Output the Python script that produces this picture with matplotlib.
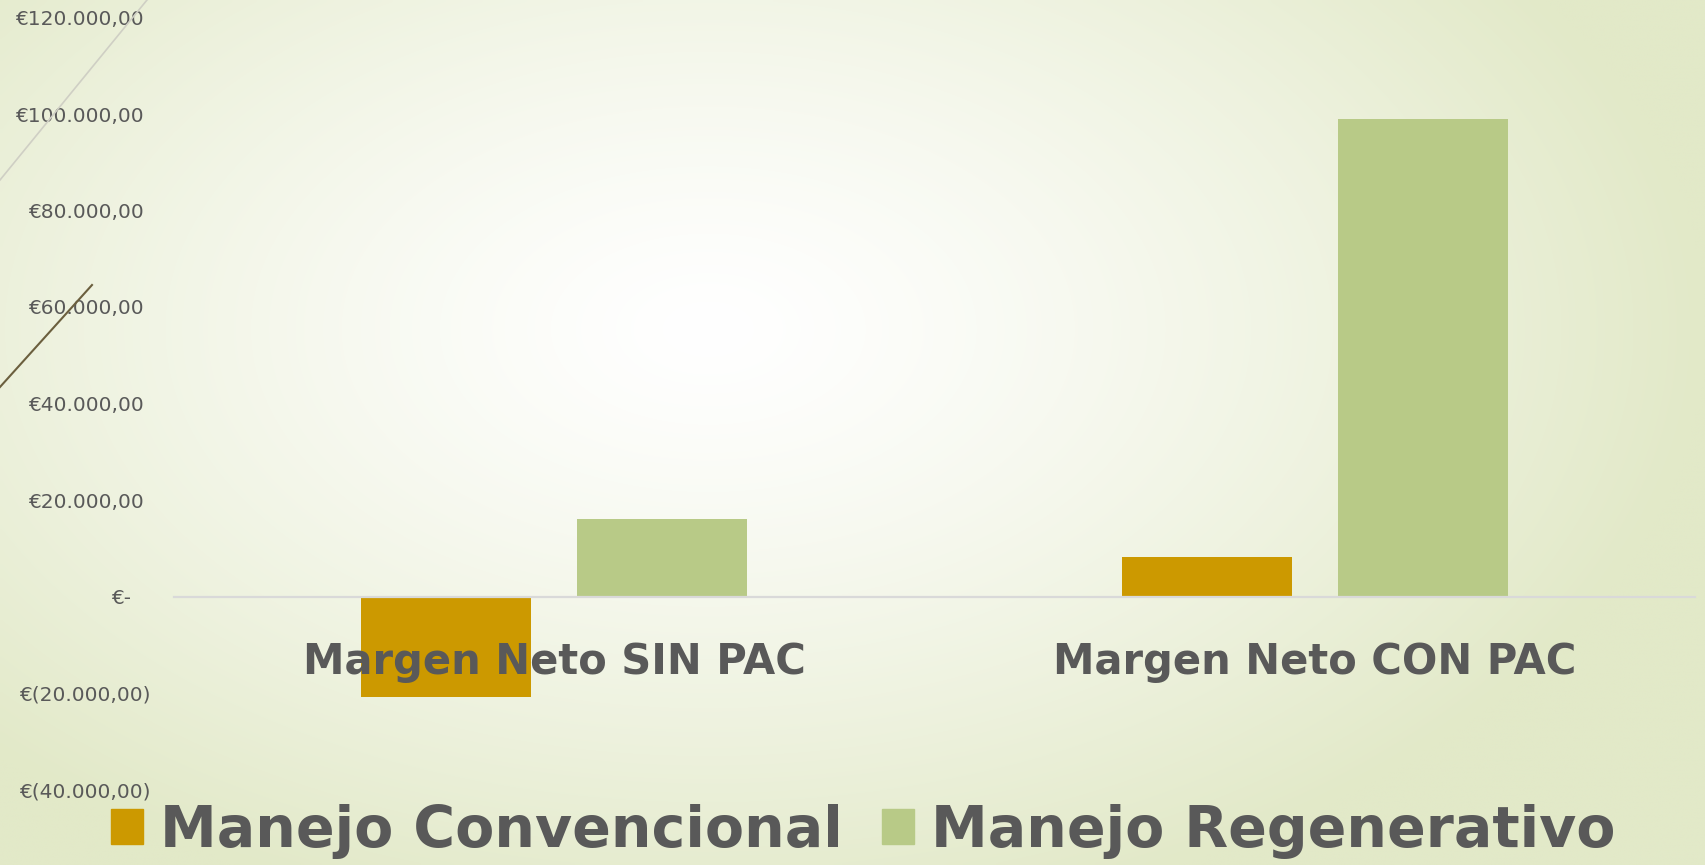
import numpy as np
import matplotlib
matplotlib.use("Agg")
import matplotlib.pyplot as plt
from matplotlib.lines import Line2D
from matplotlib.patches import Patch
from matplotlib.ticker import FuncFormatter

categories = ["Margen Neto SIN PAC", "Margen Neto CON PAC"]
series_names = ["Manejo Convencional", "Manejo Regenerativo"]
convencional = [-20800, 8200]
regenerativo = [16000, 99000]
colors = ["#CC9900", "#B8CA87"]
yticks = [-40000, -20000, 0, 20000, 40000, 60000, 80000, 100000, 120000]

grey = "#595959"

fig = plt.figure(figsize=(17.06, 8.65), dpi=100)

# slide background: radial gradient, white in the middle, pale green at edges
bg = fig.add_axes([0, 0, 1, 1], zorder=-10)
xx, yy = np.meshgrid(np.linspace(0, 1, 400), np.linspace(0, 1, 200))
d = np.sqrt(((xx - 0.415) / 0.75) ** 2 + ((yy - 0.38) / 0.9) ** 2)
d = np.clip(d / 0.78, 0, 1) ** 1.3
c0 = np.array([1.0, 1.0, 1.0])
c1 = np.array([0xe2, 0xe9, 0xc8]) / 255
img = c0[None, None, :] * (1 - d[..., None]) + c1[None, None, :] * d[..., None]
bg.imshow(img, extent=[0, 1, 1, 0], aspect="auto", interpolation="bilinear")
bg.set_xlim(0, 1)
bg.set_ylim(1, 0)
bg.axis("off")

# decorative lines of the slide theme
fig.add_artist(Line2D([0, 147 / 1706], [1 - 180 / 865, 1], color="#cfcfc4", lw=1.2))
fig.add_artist(Line2D([0, 92 / 1706], [1 - 387 / 865, 1 - 285 / 865], color="#6b5f3e", lw=1.5))

ax = fig.add_axes([174 / 1706, 1 - 789.5 / 865, (1695 - 174) / 1706, (789.5 - 17.5) / 865])
ax.patch.set_alpha(0)

x = np.arange(len(categories))
w = 0.2235
off = 0.142
ax.bar(x - off, convencional, w, color=colors[0], label=series_names[0])
ax.bar(x + off, regenerativo, w, color=colors[1], label=series_names[1])

ax.set_xlim(-0.5, 1.5)
ax.set_ylim(-40000, 120000)
ax.set_yticks(yticks)


def euro(v, pos):
    s = f"{abs(v):,.2f}".replace(",", "X").replace(".", ",").replace("X", ".")
    if v == 0:
        return "€-   "
    if v < 0:
        return f"€({s})"
    return f"€{s} "


ax.yaxis.set_major_formatter(FuncFormatter(euro))
for s in ["top", "right", "left"]:
    ax.spines[s].set_visible(False)
ax.spines["bottom"].set_position(("data", 0))
ax.spines["bottom"].set_color("#d9d9d9")
ax.spines["bottom"].set_linewidth(1.6)

ax.set_xticks(x)
ax.set_xticklabels(categories, fontsize=30, fontweight="bold", color=grey, family="DejaVu Sans")
ax.tick_params(axis="x", length=0, pad=32)
ax.tick_params(axis="y", length=0, pad=17, labelsize=14.5, labelcolor=grey)

handles = [Patch(color=colors[0]), Patch(color=colors[1])]
leg = fig.legend(handles, series_names, loc="lower center", bbox_to_anchor=(0.506, -0.052), ncol=2,
                 frameon=False, handlelength=0.55, handleheight=0.55, handletextpad=0.3,
                 columnspacing=0.7, prop={"size": 41, "weight": "bold", "family": "DejaVu Sans"})
for t in leg.get_texts():
    t.set_color(grey)

fig.savefig("out.png", dpi=100)
